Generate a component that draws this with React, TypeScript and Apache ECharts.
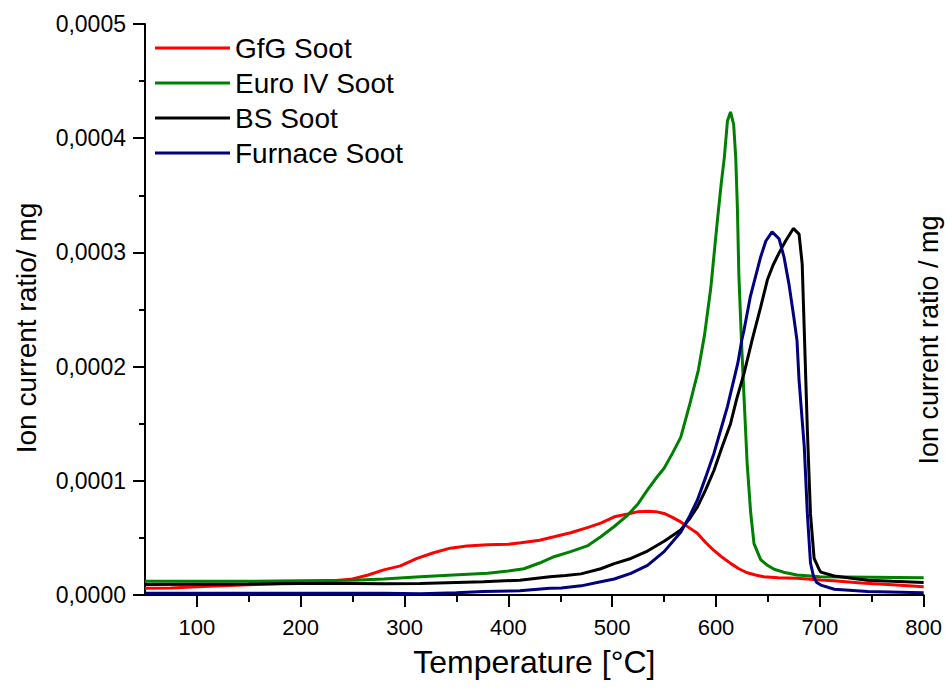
import { useEffect, useRef } from 'react';
import * as echarts from 'echarts';

const xMajorTicks = [100, 200, 300, 400, 500, 600, 700, 800];
const xMinorTicks = [150, 250, 350, 450, 550, 650, 750];
const seriesNames = ['GfG Soot', 'Euro IV Soot', 'BS Soot', 'Furnace Soot'];
const seriesColors = ['#ff0000', '#008000', '#000000', '#000080'];

// [temperature °C, ion current ratio / mg]
const gfgSoot = [
  [50, 0.6e-5], [75, 0.62e-5], [100, 0.73e-5], [150, 0.9e-5], [200, 1.07e-5], [225, 1.2e-5],
  [248, 1.37e-5], [265, 1.75e-5], [280, 2.2e-5], [296, 2.55e-5], [312, 3.2e-5], [328, 3.7e-5],
  [344, 4.1e-5], [360, 4.3e-5], [380, 4.4e-5], [400, 4.45e-5], [412, 4.57e-5], [430, 4.8e-5],
  [444, 5.1e-5], [460, 5.45e-5], [476, 5.9e-5], [489, 6.3e-5], [502, 6.85e-5], [515, 7.1e-5],
  [525, 7.3e-5], [534, 7.34e-5], [542, 7.3e-5], [550, 7.14e-5], [558, 6.8e-5], [566, 6.4e-5],
  [574, 5.9e-5], [582, 5.4e-5], [590, 4.6e-5], [598, 3.9e-5], [606, 3.3e-5], [614, 2.77e-5],
  [622, 2.3e-5], [630, 1.95e-5], [638, 1.75e-5], [646, 1.6e-5], [660, 1.5e-5], [678, 1.46e-5],
  [701, 1.31e-5], [713, 1.25e-5], [740, 1.05e-5], [770, 0.9e-5], [800, 0.73e-5],
];

const euroIVSoot = [
  [50, 1.2e-5], [100, 1.2e-5], [150, 1.2e-5], [200, 1.25e-5], [250, 1.3e-5], [280, 1.4e-5],
  [315, 1.6e-5], [347, 1.75e-5], [380, 1.9e-5], [400, 2.1e-5], [415, 2.3e-5], [430, 2.8e-5],
  [444, 3.35e-5], [460, 3.8e-5], [476, 4.3e-5], [489, 5.1e-5], [502, 6.0e-5], [515, 7.0e-5],
  [525, 8.0e-5], [534, 9.2e-5], [542, 10.2e-5], [550, 11.1e-5], [558, 12.4e-5], [566, 13.8e-5],
  [575, 16.8e-5], [583, 19.7e-5], [589, 22.8e-5], [595, 26.9e-5], [601, 32.5e-5], [605, 36e-5],
  [608, 38.3e-5], [611, 41.5e-5], [614, 42.3e-5], [617, 41.2e-5], [619, 38.3e-5], [620.6, 33.9e-5],
  [622, 28.1e-5], [624.4, 22.5e-5], [627, 17.3e-5], [630, 11.5e-5], [633.4, 7.2e-5], [636.6, 4.5e-5],
  [643, 3.1e-5], [649.5, 2.6e-5], [656, 2.25e-5], [665, 2.0e-5], [678, 1.75e-5], [700, 1.6e-5],
  [750, 1.55e-5], [800, 1.5e-5],
];

const bsSoot = [
  [50, 0.93e-5], [100, 0.95e-5], [150, 0.97e-5], [200, 1.0e-5], [250, 1.0e-5], [280, 0.98e-5],
  [315, 1.0e-5], [350, 1.1e-5], [376, 1.16e-5], [411, 1.3e-5], [440, 1.6e-5], [455, 1.7e-5],
  [470, 1.85e-5], [489, 2.3e-5], [502, 2.75e-5], [518, 3.2e-5], [534, 3.85e-5], [550, 4.7e-5],
  [566, 5.7e-5], [574, 6.6e-5], [582, 7.7e-5], [590, 9.2e-5], [598, 10.9e-5], [606, 13.0e-5],
  [614, 15.0e-5], [620, 17.2e-5], [627, 19.4e-5], [635, 22.4e-5], [643, 25.2e-5], [649.5, 27.6e-5],
  [655, 28.9e-5], [661, 30.0e-5], [667, 31.0e-5], [674.5, 32.1e-5], [680, 31.6e-5], [683, 29e-5],
  [685, 23.2e-5], [688, 14.4e-5], [691, 7.1e-5], [694.5, 3.2e-5], [699, 2.3e-5], [701, 2.0e-5],
  [714, 1.66e-5], [746, 1.3e-5], [770, 1.2e-5], [800, 1.1e-5],
];

const furnaceSoot = [
  [50, 0.15e-5], [100, 0.15e-5], [150, 0.15e-5], [200, 0.15e-5], [250, 0.15e-5], [280, 0.15e-5],
  [315, 0.12e-5], [350, 0.2e-5], [376, 0.3e-5], [411, 0.38e-5], [440, 0.6e-5], [451, 0.62e-5],
  [470, 0.8e-5], [489, 1.16e-5], [502, 1.4e-5], [518, 1.9e-5], [534, 2.6e-5], [550, 3.8e-5],
  [566, 5.5e-5], [574, 6.8e-5], [582, 8.3e-5], [590, 10.3e-5], [598, 12.4e-5], [605, 14.6e-5],
  [611, 16.5e-5], [621, 20.3e-5], [625, 22.4e-5], [627, 23.2e-5], [633, 26.1e-5], [643, 29.6e-5],
  [648, 31.0e-5], [654, 31.8e-5], [660.7, 31.2e-5], [665.5, 29.6e-5], [670.3, 27.2e-5], [675, 24.3e-5],
  [678, 22.3e-5], [680, 18.8e-5], [685, 13.0e-5], [688, 7.1e-5], [691, 2.8e-5], [694, 1.6e-5],
  [697, 1.1e-5], [701, 0.87e-5], [714, 0.5e-5], [746, 0.3e-5], [800, 0.2e-5],
];

const allSeries = [gfgSoot, euroIVSoot, bsSoot, furnaceSoot];

const FONT = "'Liberation Sans', Arial, Helvetica, sans-serif";

export default function App() {
  const ref = useRef<HTMLDivElement>(null);

  useEffect(() => {
    if (!ref.current) return;
    const chart = echarts.init(ref.current, undefined, { renderer: 'svg' });
    chart.setOption({
      animation: false,
      backgroundColor: '#fff',
      textStyle: { fontFamily: FONT, color: '#000' },
      grid: { left: 145, right: 20, top: 24, bottom: 98, containLabel: false },
      legend: {
        orient: 'vertical',
        left: 155,
        top: 34,
        padding: 0,
        itemGap: 7,
        itemWidth: 75,
        itemHeight: 3,
        icon: 'rect',
        data: seriesNames,
        textStyle: { fontFamily: FONT, fontSize: 28, color: '#000' },
      },
      xAxis: [
        {
          type: 'value',
          min: 50,
          max: 800,
          position: 'bottom',
          name: 'Temperature [°C]',
          nameLocation: 'middle',
          nameGap: 51,
          nameTextStyle: { fontFamily: FONT, fontSize: 32, color: '#000' },
          axisLine: { show: true, lineStyle: { color: '#000', width: 2 } },
          axisTick: { show: true, inside: false, length: 12, customValues: xMajorTicks, lineStyle: { color: '#000', width: 2 } },
          axisLabel: { customValues: xMajorTicks, fontSize: 22, color: '#000', fontFamily: FONT, margin: 21 },
          splitLine: { show: false },
        },
        {
          type: 'value',
          min: 50,
          max: 800,
          position: 'bottom',
          axisLine: { show: false },
          axisTick: { show: true, inside: false, length: 7, customValues: xMinorTicks, lineStyle: { color: '#000', width: 2 } },
          axisLabel: { show: false },
          splitLine: { show: false },
        },
      ],
      yAxis: {
        type: 'value',
        min: 0,
        max: 0.0005,
        interval: 0.0001,
        axisLine: { show: true, lineStyle: { color: '#000', width: 2 } },
        axisTick: { show: true, inside: false, length: 12, lineStyle: { color: '#000', width: 2 } },
        minorTick: { show: true, splitNumber: 2, length: 6, lineStyle: { color: '#000', width: 2 } },
        axisLabel: {
          fontSize: 23,
          color: '#000',
          fontFamily: FONT,
          margin: 19,
          formatter: (v: number) => v.toFixed(4).replace('.', ','),
        },
        splitLine: { show: false },
        minorSplitLine: { show: false },
      },
      graphic: [
        {
          type: 'text',
          x: 26,
          y: 328,
          rotation: Math.PI / 2,
          style: {
            text: 'Ion current ratio/ mg',
            fontFamily: FONT,
            fontSize: 28,
            fill: '#000',
            align: 'center',
            verticalAlign: 'middle',
          },
        },
        {
          type: 'text',
          x: 929,
          y: 340,
          rotation: Math.PI / 2,
          style: {
            text: 'Ion current ratio / mg',
            fontFamily: FONT,
            fontSize: 27,
            fill: '#000',
            align: 'center',
            verticalAlign: 'middle',
          },
        },
      ],
      series: allSeries.map((data, i) => ({
        name: seriesNames[i],
        type: 'line',
        xAxisIndex: 0,
        data,
        showSymbol: false,
        symbol: 'none',
        color: seriesColors[i],
        lineStyle: { color: seriesColors[i], width: 3 },
      })),
    });
    return () => chart.dispose();
  }, []);

  return (
    <div
      ref={ref}
      style={{ position: 'absolute', left: 0, top: 0, width: 945, height: 693, background: '#fff' }}
    />
  );
}
